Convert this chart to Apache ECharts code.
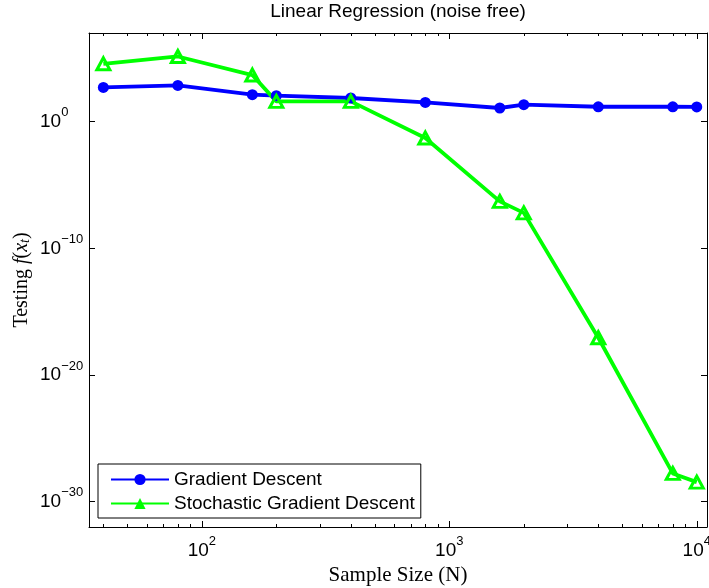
<!DOCTYPE html>
<html>
<head>
<meta charset="utf-8">
<script src="https://cdn.jsdelivr.net/npm/echarts@6/dist/echarts.min.js"></script>
<style>
  html, body { margin: 0; padding: 0; background: #fff; }
  #chart { width: 709px; height: 588px; }
</style>
</head>
<body>
<div id="chart"></div>
<script>
// Sample sizes (N)
const sampleSizes = [40, 80, 160, 200, 400, 800, 1600, 2000, 4000, 8000, 10000];
// Testing objective f(x_t) for each method
const gradientDescent = [501, 724, 135, 112, 74, 33, 12, 22, 15, 15, 14.5];
const stochasticGD = [3.7e4, 1.4e5, 4.8e3, 40, 40, 5.1e-2, 5.1e-7, 6.3e-8, 8.7e-18, 1.7e-28, 3.5e-29];

// Tick positions
const xMajorTicks = [100, 1000, 10000];
const xMinorTicks = [40, 50, 60, 70, 80, 90,
  200, 300, 400, 500, 600, 700, 800, 900,
  2000, 3000, 4000, 5000, 6000, 7000, 8000, 9000];
const yMajorTicks = [1, 1e-10, 1e-20, 1e-30];

const seriesNames = ['Gradient Descent', 'Stochastic Gradient Descent'];

const SANS = '"Liberation Sans", Arial, Helvetica, sans-serif';
const SERIF = '"Liberation Serif", "Times New Roman", serif';

function powerLabel(v) {
  const e = Math.round(Math.log10(v));
  const s = e < 0 ? '\u2212' + (-e) : String(e);
  return '{b|10}{s|' + s + '}';
}
const powerRich = {
  b: { fontFamily: SANS, fontSize: 19, lineHeight: 31, color: '#000', verticalAlign: 'middle' },
  s: { fontFamily: SANS, fontSize: 13, lineHeight: 13, color: '#000', verticalAlign: 'top' }
};

const X_MIN = 35, X_MAX = 11000, Y_MIN = 1e-32, Y_MAX = 1e7;
const axisLineStyle = { show: true, onZero: false, lineStyle: { color: '#000', width: 1 } };

function xAxisDef(position, ticks, len, withLine, withLabels) {
  const ax = {
    type: 'log', logBase: 10, position: position, min: X_MIN, max: X_MAX,
    axisLine: withLine ? axisLineStyle : { show: false, onZero: false },
    axisTick: { show: true, inside: true, length: len, customValues: ticks,
      lineStyle: { color: '#000', width: 1 } },
    axisLabel: { show: false },
    splitLine: { show: false },
    minorTick: { show: false }
  };
  if (withLabels) {
    ax.axisLabel = { show: true, customValues: xMajorTicks, formatter: powerLabel,
      rich: powerRich, margin: 8 };
    ax.name = 'Sample Size (N)';
    ax.nameLocation = 'middle';
    ax.nameGap = 38;
    ax.nameMoveOverlap = false;
    ax.nameTextStyle = { fontFamily: SERIF, fontSize: 21, color: '#000' };
  }
  return ax;
}

function yAxisDef(position, withLabels) {
  const ax = {
    type: 'log', logBase: 10, position: position, min: Y_MIN, max: Y_MAX,
    axisLine: axisLineStyle,
    axisTick: { show: true, inside: true, length: 6, customValues: yMajorTicks,
      lineStyle: { color: '#000', width: 1 } },
    axisLabel: { show: false },
    splitLine: { show: false },
    minorTick: { show: false }
  };
  if (withLabels) {
    // labels start at a common left edge, exponents run toward the axis
    ax.axisLabel = { show: true, customValues: yMajorTicks, formatter: powerLabel,
      rich: powerRich, margin: 49, align: 'left' };
    ax.name = 'Testing {i|f}({i|x}{t|t})';
    ax.nameLocation = 'middle';
    ax.nameGap = 57;
    ax.nameMoveOverlap = false;
    ax.nameTextStyle = {
      fontFamily: SERIF, fontSize: 20, color: '#000',
      rich: {
        i: { fontFamily: SERIF, fontStyle: 'italic', fontSize: 20, color: '#000' },
        t: { fontFamily: SERIF, fontStyle: 'italic', fontSize: 14, color: '#000',
             verticalAlign: 'bottom', lineHeight: 14 }
      }
    };
  }
  return ax;
}

const chart = echarts.init(document.getElementById('chart'), null, { renderer: 'canvas' });
chart.setOption({
  animation: false,
  backgroundColor: '#fff',
  title: {
    text: 'Linear Regression (noise free)',
    left: 398, top: 2, padding: 0, textAlign: 'center',
    textStyle: { fontFamily: SANS, fontSize: 19, fontWeight: 'normal', color: '#000' }
  },
  grid: { left: 89, top: 33, width: 618, height: 494, containLabel: false, outerBoundsMode: 'none' },
  xAxis: [
    xAxisDef('bottom', xMajorTicks, 6, true, true),
    xAxisDef('bottom', xMinorTicks, 3, false, false),
    xAxisDef('top', xMajorTicks, 6, true, false),
    xAxisDef('top', xMinorTicks, 3, false, false)
  ],
  yAxis: [
    yAxisDef('left', true),
    yAxisDef('right', false)
  ],
  legend: {
    orient: 'vertical',
    left: 98, top: 464,
    padding: [6, 6, 5, 12],
    itemGap: 5,
    itemWidth: 58, itemHeight: 14,
    backgroundColor: '#fff',
    borderColor: '#000', borderWidth: 1, borderRadius: 0,
    textStyle: { fontFamily: SANS, fontSize: 19, color: '#000' },
    data: [
      { name: seriesNames[0] },
      { name: seriesNames[1], itemStyle: { color: '#00ff00', borderWidth: 0 } }
    ]
  },
  series: [
    {
      name: seriesNames[0], type: 'line',
      xAxisIndex: 0, yAxisIndex: 0,
      data: sampleSizes.map((x, i) => [x, gradientDescent[i]]),
      symbol: 'circle', symbolSize: 11, showAllSymbol: true,
      lineStyle: { color: '#0000ff', width: 3.8 },
      itemStyle: { color: '#0000ff' },
      emphasis: { disabled: true }
    },
    {
      name: seriesNames[1], type: 'line',
      xAxisIndex: 0, yAxisIndex: 0,
      data: sampleSizes.map((x, i) => [x, stochasticGD[i]]),
      symbol: 'triangle', symbolSize: [13, 12], showAllSymbol: true,
      lineStyle: { color: '#00ff00', width: 3.8 },
      itemStyle: { color: 'rgba(255,255,255,0)', borderColor: '#00ff00', borderWidth: 3 },
      emphasis: { disabled: true }
    }
  ]
});
</script>
</body>
</html>
